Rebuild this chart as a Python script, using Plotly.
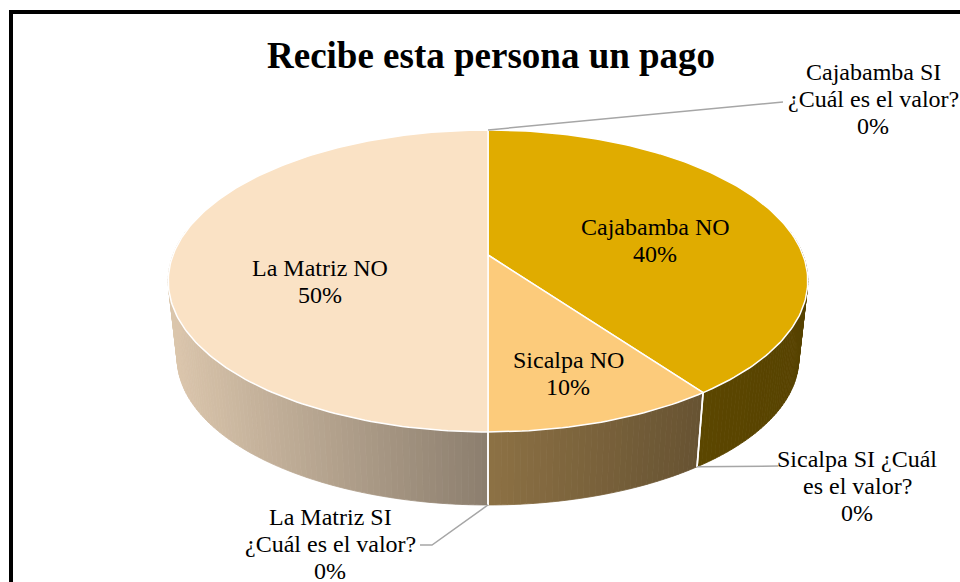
import numpy as np
import plotly.graph_objects as go

# ---------------- data ----------------
categories = [
    "Cajabamba SI ¿Cuál es el valor?",
    "Cajabamba NO",
    "Sicalpa SI ¿Cuál es el valor?",
    "Sicalpa NO",
    "La Matriz SI ¿Cuál es el valor?",
    "La Matriz NO",
]
values = [0, 40, 0, 10, 0, 50]
label_names = [
    "Cajabamba SI\n¿Cuál es el valor?",
    "Cajabamba NO",
    "Sicalpa SI ¿Cuál\nes el valor?",
    "Sicalpa NO",
    "La Matriz SI\n¿Cuál es el valor?",
    "La Matriz NO",
]
title_text = "Recibe esta persona un pago"

# ---------------- styling / layout ----------------
top_colors = ["#B88A00", "#E0AC00", "#E8A850", "#FCCB7B", "#F0D2A8", "#FAE2C5"]
FONT = "Liberation Serif"
CX, CY = 488, 255          # centre of the top face (pixels)
W, A, K = 315, 146.5, 0.172  # half width, half height, perspective
S_B, T_B = 0.972, 78        # bottom rim scale and drop
label_pos = [(873, 72), (655, 227), (857, 459), (568, 360), (330, 517), (320, 268)]
leader_ends = {0: [(783, 102)], 2: [(778, 466)], 4: [(432, 545), (420, 545)]}
LSP = 27


def top_pt(th):
    den = 1 + K * np.cos(th)
    return CX + W * np.sin(th) / den, CY - A * np.cos(th) / den


def bot_pt(th):
    den = 1 + K * np.cos(th)
    return CX + S_B * W * np.sin(th) / den, CY + T_B - S_B * A * np.cos(th) / den


def shade(hexc, f):
    h = hexc.lstrip("#")
    r, g, b = (int(h[i:i + 2], 16) for i in (0, 2, 4))
    return "rgb({},{},{})".format(int(r * f), int(g * f), int(b * f))


def side_factor(x):
    return float(np.interp(x, [170, 488, 700, 810], [0.88, 0.56, 0.41, 0.39]))


total = float(sum(values))
cum = np.concatenate([[0], np.cumsum(values)]) / total * 2 * np.pi

fig = go.Figure()

# ---- side walls (front half) ----
vis0, vis1 = np.radians(80), np.radians(280)
for i, v in enumerate(values):
    if v <= 0:
        continue
    lo, hi = max(cum[i], vis0), min(cum[i + 1], vis1)
    if lo >= hi:
        continue
    n = max(1, int(np.degrees(hi - lo) / 1.0))
    ths = np.linspace(lo, hi, n + 1)
    for j in range(n):
        t0, t1 = ths[j], ths[j + 1]
        x0, y0 = top_pt(t0)
        x1, y1 = top_pt(t1)
        bx0, by0 = bot_pt(t0)
        bx1, by1 = bot_pt(t1)
        col = shade(top_colors[i], side_factor((x0 + x1 + bx0 + bx1) / 4))
        fig.add_trace(go.Scatter(
            x=[x0, x1, bx1, bx0, x0], y=[y0, y1, by1, by0, y0],
            mode="lines", fill="toself", fillcolor=col,
            line=dict(color=col, width=0.8), hoverinfo="skip"))

# white edges on side at slice boundaries
for b in cum[1:-1]:
    if np.cos(b) < -K:
        x0, y0 = top_pt(b)
        bx, by = bot_pt(b)
        fig.add_trace(go.Scatter(x=[x0, bx], y=[y0, by], mode="lines",
                                 line=dict(color="white", width=1.6), hoverinfo="skip"))

# ---- top faces ----
for i, v in enumerate(values):
    if v <= 0:
        continue
    ths = np.linspace(cum[i], cum[i + 1], max(3, int(np.degrees(cum[i + 1] - cum[i]))))
    xs, ys = top_pt(ths)
    px = [CX] + list(xs) + [CX]
    py = [CY] + list(ys) + [CY]
    fig.add_trace(go.Scatter(x=px, y=py, mode="lines", fill="toself",
                             fillcolor=top_colors[i],
                             line=dict(color="white", width=1.5), hoverinfo="skip"))

# ---- leader lines for zero slices ----
for i, v in enumerate(values):
    if v > 0 or i not in leader_ends:
        continue
    a = cum[i]
    ax, ay = top_pt(a) if np.cos(a) > 0 else bot_pt(a)
    lx = [ax] + [p[0] for p in leader_ends[i]]
    ly = [ay] + [p[1] for p in leader_ends[i]]
    fig.add_trace(go.Scatter(x=lx, y=ly, mode="lines",
                             line=dict(color="#A6A6A6", width=1.5), hoverinfo="skip"))

# ---- labels ----
annotations = []
for i, v in enumerate(values):
    pct = "{:.0f}%".format(v / total * 100)
    lines = label_names[i].split("\n") + [pct]
    x0, y0 = label_pos[i]
    for j, t in enumerate(lines):
        annotations.append(dict(x=x0, y=y0 + j * LSP, text=t, showarrow=False,
                                xanchor="center", yanchor="middle",
                                font=dict(family=FONT, size=24, color="black")))

annotations.append(dict(x=491, y=55, text=title_text, showarrow=False,
                        xanchor="center", yanchor="middle",
                        font=dict(family=FONT, size=37, color="black", weight="bold")))

fig.update_layout(
    width=960, height=582,
    margin=dict(l=0, r=0, t=0, b=0),
    paper_bgcolor="white", plot_bgcolor="white",
    showlegend=False,
    xaxis=dict(range=[0, 960], visible=False, fixedrange=True),
    yaxis=dict(range=[582, 0], visible=False, fixedrange=True),
    annotations=annotations,
    shapes=[
        dict(type="line", x0=11, x1=11, y0=10, y1=600, line=dict(color="black", width=4)),
        dict(type="line", x0=9, x1=980, y0=12, y1=12, line=dict(color="black", width=4)),
    ],
)

fig.write_html(
    "out.html",
    config={"displayModeBar": False},
    post_script="document.body.style.margin='0';document.body.style.padding='0';"
                "document.body.style.overflow='hidden';",
)
